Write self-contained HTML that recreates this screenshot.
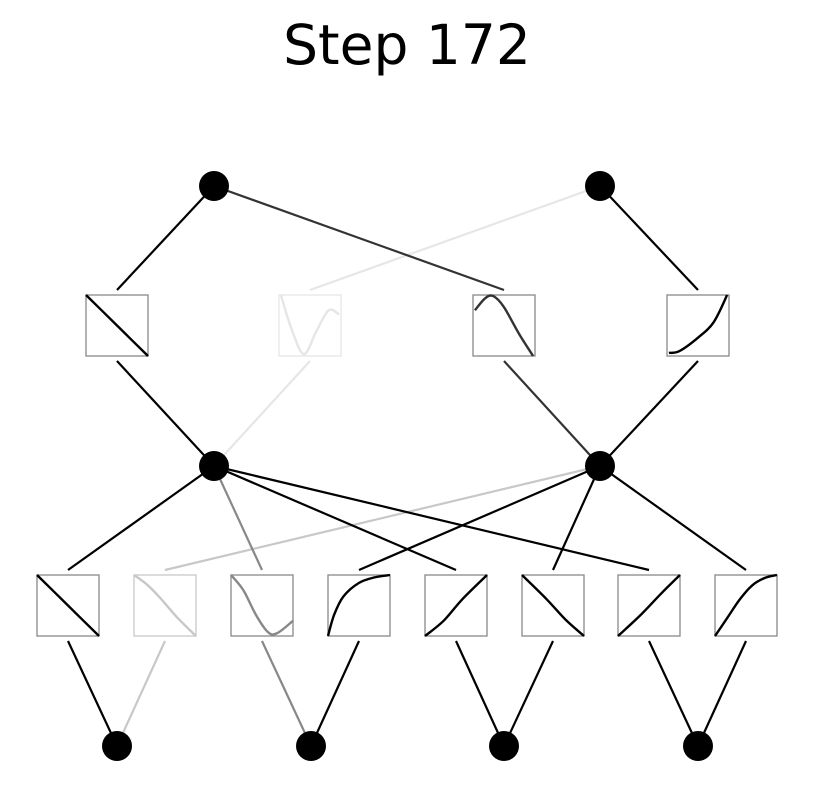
<!DOCTYPE html>
<html><head><meta charset="utf-8"><style>
body{margin:0;background:#fff}
svg{display:block}
</style></head><body>
<svg width="814" height="794" viewBox="0 0 814 794" xmlns="http://www.w3.org/2000/svg">
<rect width="814" height="794" fill="#fff"/>
<text x="407" y="64" text-anchor="middle" font-family="DejaVu Sans, Liberation Sans, sans-serif" font-size="55" fill="#000">Step 172</text>
<g id="edges"></g>
<g id="boxes"></g>
<g id="nodes"></g>
</svg>
<script>
const inNodesX=[117,311,504,698];
const midNodesX=[214,600];
const outNodesX=[214,600];
const l1Centers=[68,165,262,359,456,553,649,746];
const l1Src=[0,0,1,1,2,2,3,3];
const l1Dst=[0,1,0,1,0,1,0,1];
const l1Color=["#000","#c8c8c8","#888","#000","#000","#000","#000","#000"];
const l2Centers=[117,310,504,698];
const l2Src=[0,0,1,1];
const l2Dst=[0,1,0,1];
const l2Color=["#000","#e6e6e6","#333","#000"];
const l1Curves=[
 [[0,1],[0.5,0.5],[1,0]],
 [[0,1],[0.2,0.85],[0.4,0.65],[0.7,0.3],[1,0]],
 [[0,1],[0.2,0.75],[0.4,0.35],[0.6,0.06],[0.75,0.05],[1,0.25]],
 [[0,0],[0.1,0.35],[0.25,0.65],[0.5,0.87],[0.75,0.96],[1,1]],
 [[0,0],[0.3,0.25],[0.6,0.6],[1,1]],
 [[0,1],[0.4,0.6],[0.7,0.27],[1,0]],
 [[0,0],[0.35,0.33],[0.7,0.7],[1,1]],
 [[0,0],[0.2,0.3],[0.4,0.6],[0.6,0.83],[0.8,0.95],[1,1]]
];
const l2Curves=[
 [[0,1],[0.5,0.5],[1,0]],
 [[0.03,1],[0.2,0.45],[0.4,0.03],[0.6,0.4],[0.8,0.75],[0.97,0.68]],
 [[0.03,0.75],[0.2,0.95],[0.33,0.98],[0.5,0.8],[0.75,0.35],[0.97,0]],
 [[0.03,0.05],[0.2,0.08],[0.5,0.3],[0.75,0.55],[0.97,1]]
];
const NS="http://www.w3.org/2000/svg";
const E=document.getElementById('edges'),B=document.getElementById('boxes'),N=document.getElementById('nodes');
function line(x1,y1,x2,y2,c){const l=document.createElementNS(NS,'line');
l.setAttribute('x1',x1);l.setAttribute('y1',y1);l.setAttribute('x2',x2);l.setAttribute('y2',y2);
l.setAttribute('stroke',c);l.setAttribute('stroke-width',2.2);


E.appendChild(l);}
function smooth(pts){let d='M'+pts[0][0].toFixed(1)+','+pts[0][1].toFixed(1);
for(let i=0;i<pts.length-1;i++){const p0=pts[Math.max(0,i-1)],p1=pts[i],p2=pts[i+1],p3=pts[Math.min(pts.length-1,i+2)];
const c1=[p1[0]+(p2[0]-p0[0])/6,p1[1]+(p2[1]-p0[1])/6],c2=[p2[0]-(p3[0]-p1[0])/6,p2[1]-(p3[1]-p1[1])/6];
d+=' C'+c1[0].toFixed(1)+','+c1[1].toFixed(1)+' '+c2[0].toFixed(1)+','+c2[1].toFixed(1)+' '+p2[0].toFixed(1)+','+p2[1].toFixed(1);}
return d;}
function box(cx,top,curve,c,name){const w=62,h=61,x=cx-31;
const r=document.createElementNS(NS,'rect');r.setAttribute('x',x);r.setAttribute('y',top);r.setAttribute('width',w);r.setAttribute('height',h);
r.setAttribute('fill','none');r.setAttribute('stroke',c==="#000"||c==="#333"?"#888":c);r.setAttribute('stroke-width',1.3);


B.appendChild(r);
const p=document.createElementNS(NS,'path');
p.setAttribute('d',smooth(curve.map(q=>[x+q[0]*w,top+h-q[1]*h])));
p.setAttribute('fill','none');p.setAttribute('stroke',c);p.setAttribute('stroke-width',2.4);p.setAttribute('stroke-linejoin','round');


B.appendChild(p);}
function node(x,y){const c=document.createElementNS(NS,'circle');c.setAttribute('cx',x);c.setAttribute('cy',y);c.setAttribute('r',15);c.setAttribute('fill','#000');


N.appendChild(c);}
l1Centers.forEach((cx,i)=>{const c=l1Color[i];
line(inNodesX[l1Src[i]],746,cx,641,c);
line(cx,570,midNodesX[l1Dst[i]],466,c);
box(cx,575,l1Curves[i],c,'activation-l1-'+i);});
l2Centers.forEach((cx,i)=>{const c=l2Color[i];
line(midNodesX[l2Src[i]],466,cx,361,c);
line(cx,290,outNodesX[l2Dst[i]],186,c);
box(cx,295,l2Curves[i],c,'activation-l2-'+i);});
inNodesX.forEach(x=>node(x,746));
midNodesX.forEach(x=>node(x,466));
outNodesX.forEach(x=>node(x,186));
</script>
</body></html>
